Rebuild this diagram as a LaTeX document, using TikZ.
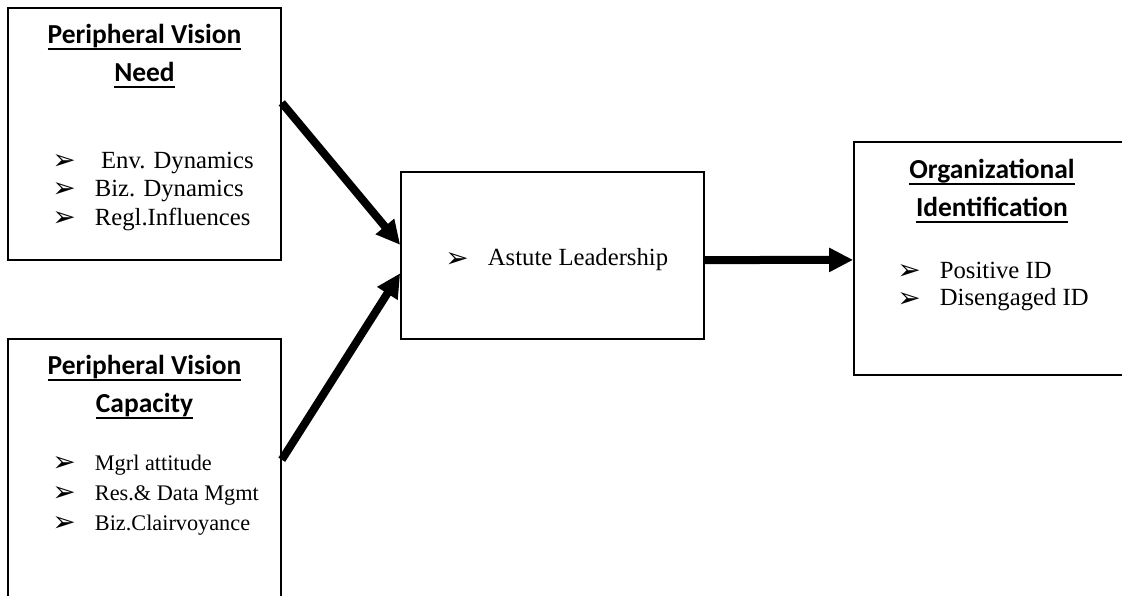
\documentclass[tikz,border=0pt]{standalone}
\usepackage{fontspec}
\setmainfont{Liberation Serif}
\newfontfamily\ttlfont{Carlito}
\newfontfamily\bulfont{DejaVu Sans}
\usetikzlibrary{arrows.meta, calc}

\newcommand{\ulin}[1]{\setbox0\hbox{#1}\rlap{\rule[-4.5pt]{\wd0}{1.5pt}}\box0}
\newcommand{\bul}{\makebox[32pt][l]{\bulfont\fontsize{21}{21}\selectfont\raisebox{-1pt}{➢}}}

\tikzset{
  box/.style={draw, line width=1.2pt, inner sep=0pt},
  ttl/.style={font=\ttlfont\bfseries\fontsize{20.6}{28.5}\selectfont, align=center, inner sep=0pt},
  item/.style={font=\fontsize{18.5}{21}\selectfont, anchor=west, inner sep=0pt},
  link/.style={line width=6pt, -{Triangle[length=18pt,width=17pt]}}
}

\begin{document}
\begin{tikzpicture}[x=0.75pt,y=-0.75pt]
  \useasboundingbox (0,0) rectangle (1122,596);
  \clip (0,0) rectangle (1122,596);

  % boxes
  \node[box, minimum width=204.75pt, minimum height=189pt] (need) at (144.5,134) {};
  \node[box, minimum width=204.75pt, minimum height=225pt] (cap) at (144.5,489) {};
  \node[box, minimum width=227.25pt, minimum height=125.25pt] (lead) at (552.5,255.5) {};
  \node[box, minimum width=210pt, minimum height=174.75pt] (org) at (994,258.5) {};

  % titles
  \node[ttl] (needttl) at (144.5,56) {\ulin{Peripheral Vision}\\\ulin{Need}};
  \node[ttl] (capttl) at (144.5,387) {\ulin{Peripheral Vision}\\\ulin{Capacity}};
  \node[ttl] (orgttl) at (992,191) {\ulin{Organizational}\\\ulin{Identification}};

  % bullet lists
  \foreach \t [count=\i] in {{\ Env. Dynamics}, {Biz. Dynamics}, {Regl.Influences}}
    \node[item] (need\i) at (52,135+28*\i) {\bul\t};
  \foreach \t [count=\i] in {{Mgrl attitude}, {Res.\& Data Mgmt}, {Biz.Clairvoyance}}
    \node[item, font=\fontsize{16.7}{20}\selectfont] (cap\i) at (52,435+30*\i) {\bul\t};
  \node[item] (lead1) at (445,260) {\bul Astute Leadership};
  \foreach \t [count=\i] in {{Positive ID}, {Disengaged ID}}
    \node[item] (org\i) at (897,242+29*\i) {\bul\t};

  % arrows
  \draw[link] ($(need.north east)!0.377!(need.south east)$) -- ($(lead.north west)!0.437!(lead.south west)$);
  \draw[link] ($(cap.north east)!0.403!(cap.south east)$) -- ($(lead.north west)!0.605!(lead.south west)$);
  \draw[link] ($(lead.north east)!0.527!(lead.south east)$) -- ($(org.north west)!0.506!(org.south west)$);
\end{tikzpicture}
\end{document}
